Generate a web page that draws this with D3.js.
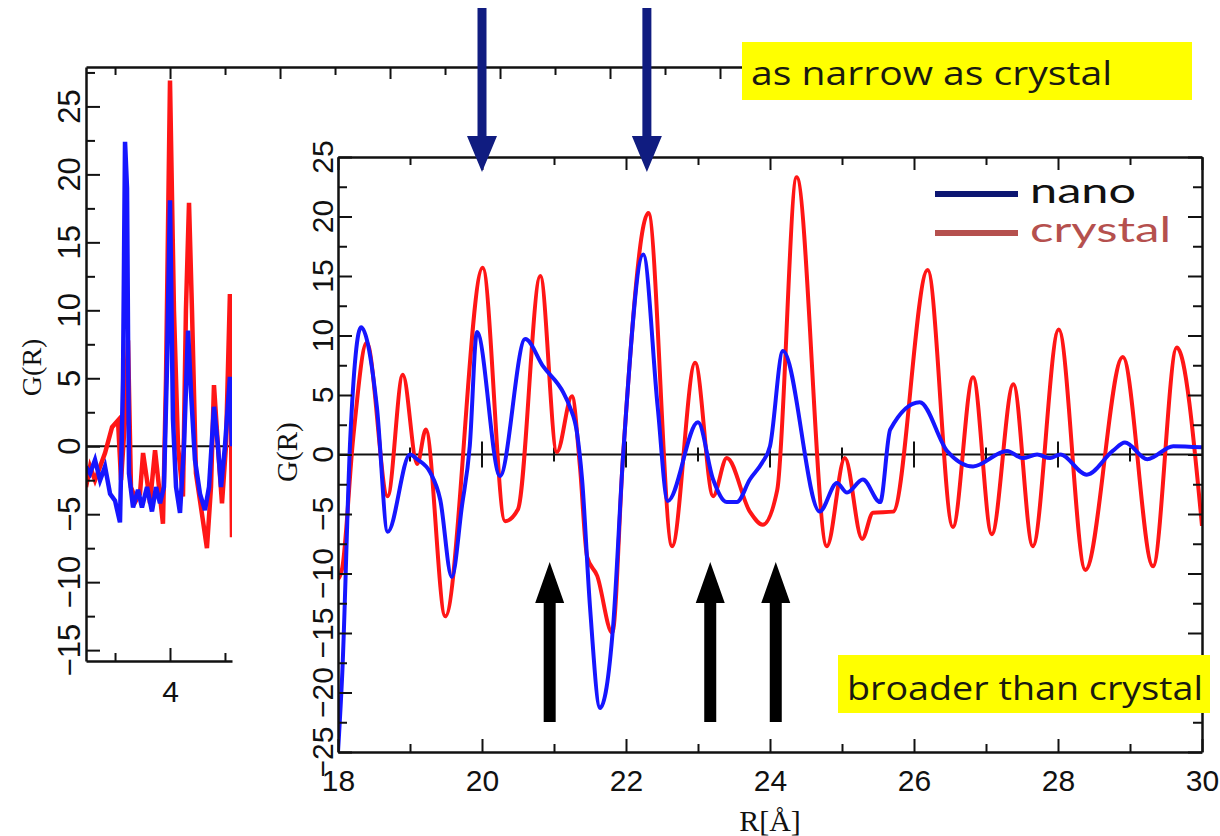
<!DOCTYPE html>
<html>
<head>
<meta charset="utf-8">
<style>
  body { margin: 0; background: #fff; }
  .axis .domain { stroke: #111; stroke-width: 2.5; }
  .axis line { stroke: #111; stroke-width: 2; }
  .axis text { font-family: "Liberation Sans", sans-serif; fill: #111; }
  .ylab { font-family: "Liberation Sans", sans-serif; fill: #111; }
  .title { font-family: "Liberation Serif", serif; fill: #111; }
  .note { font-family: "Open Sans", sans-serif; fill: #1a1a10; }
  .legtext { font-family: Lato, "Open Sans", sans-serif; }
</style>
<title>G(R) nano vs crystal</title>
</head>
<body>
<script src="https://cdn.jsdelivr.net/npm/d3@7"></script>
<script>
// main panel, R in angstrom
var crystalR = [18.00, 18.06, 18.21, 18.40, 18.69, 18.90, 19.10, 19.22, 19.49, 20.01, 20.32, 20.50, 20.81, 21.04, 21.25, 21.36, 21.46, 21.60, 21.81, 21.96, 22.31, 22.64, 22.96, 23.21, 23.40, 23.72, 23.90, 24.10, 24.37, 24.79, 25.04, 25.28, 25.43, 25.71, 26.19, 26.54, 26.82, 27.08, 27.38, 27.65, 28.01, 28.38, 28.90, 29.32, 29.65, 30.00];
var crystalG = [-10.5, -9.5, 1.3, 9.4, -3.5, 6.7, -0.8, 2.1, -13.6, 15.7, -5.6, -4.6, 15.0, 0.2, 4.9, -1.0, -8.6, -10.2, -15.0, 0.0, 20.3, -7.7, 7.7, -3.5, -0.3, -4.8, -5.9, -3.0, 23.3, -7.7, -0.3, -7.1, -4.9, -4.8, 15.5, -6.1, 6.5, -6.7, 5.9, -7.7, 10.5, -9.7, 8.2, -9.4, 9.0, -6.0];

var nanoR = [18.00, 18.06, 18.17, 18.32, 18.54, 18.69, 19.00, 19.10, 19.28, 19.42, 19.58, 19.72, 19.83, 19.93, 20.25, 20.60, 20.85, 21.13, 21.22, 21.32, 21.39, 21.50, 21.64, 21.82, 21.96, 22.24, 22.44, 22.58, 23.00, 23.21, 23.40, 23.54, 23.72, 23.89, 24.00, 24.18, 24.69, 24.93, 25.07, 25.29, 25.53, 25.67, 26.08, 26.46, 26.82, 27.29, 27.51, 27.71, 27.89, 28.03, 28.40, 28.76, 28.93, 29.24, 29.60, 30.00];
var nanoG = [-25, -18.3, 1.3, 10.7, 4.0, -6.5, 0.0, -0.4, -1.5, -3.8, -10.3, -4.4, 0.7, 10.3, -1.8, 9.7, 7.4, 5.2, 4.0, 1.8, -2.1, -12.8, -21.3, -14.5, -0.1, 16.8, 4.0, -3.9, 2.7, -2.1, -4.0, -4.0, -2.1, -0.7, 0.7, 8.7, -4.8, -2.4, -3.2, -2.1, -4.0, 2.1, 4.4, 0.3, -1.0, 0.3, -0.3, 0.0, -0.3, 0.0, -1.7, 0.3, 1.0, -0.4, 0.7, 0.6];

// small panel on the left (short R)
var insetCrystalR = [3.236, 3.273, 3.318, 3.364, 3.409, 3.473, 3.527, 3.555, 3.591, 3.618, 3.645, 3.691, 3.727, 3.755, 3.791, 3.818, 3.864, 3.900, 3.936, 3.964, 4.000, 4.036, 4.073, 4.118, 4.145, 4.173, 4.200, 4.236, 4.273, 4.336, 4.373, 4.400, 4.436, 4.473, 4.509, 4.545, 4.564];
var insetCrystalG = [-3.0, -1.5, -2.5, -1.5, -0.5, 1.4, 1.9, -2.5, 2.0, 7.8, -3.0, -4.0, -3.5, -0.5, -2.5, -4.2, -0.3, -3.0, -5.7, 5.0, 26.9, 10.0, 0.0, -3.7, 10.0, 17.9, 10.0, -2.0, -4.0, -7.5, -3.0, 4.5, 0.0, -4.2, 0.0, 11.2, -6.7];
var insetNanoR = [3.236, 3.273, 3.318, 3.364, 3.409, 3.455, 3.500, 3.545, 3.573, 3.591, 3.609, 3.627, 3.664, 3.709, 3.745, 3.791, 3.836, 3.873, 3.909, 3.945, 3.973, 4.000, 4.027, 4.055, 4.091, 4.127, 4.164, 4.191, 4.227, 4.273, 4.318, 4.355, 4.400, 4.436, 4.464, 4.500, 4.545, 4.564];
var insetNanoG = [-1.5, -2, -1, -2.5, -1.5, -3.5, -4, -5.6, 5, 22.4, 19, -2, -4.5, -3.2, -4.5, -3, -4.8, -3, -4.2, -3, 6, 18.1, 2, -3, -4.9, 0, 8.5, 4, -1, -3.5, -4.7, -3, 2.9, 0, -3.0, 0, 5.1, 0];

// ticks
var mainXMajor = [18, 20, 22, 24, 26, 28, 30];
var mainXMinor = [19, 21, 23, 25, 27, 29];
var mainYMajor = [-25, -20, -15, -10, -5, 0, 5, 10, 15, 20, 25];
var mainYMinor = [-22.5, -17.5, -12.5, -7.5, -2.5, 2.5, 7.5, 12.5, 17.5, 22.5];
var insetYMajor = [-15, -10, -5, 0, 5, 10, 15, 20, 25];
var insetYMinor = [-12.5, -7.5, -2.5, 2.5, 7.5, 12.5, 17.5, 22.5, 27.5];
var insetXMajor = [4, 5, 6, 7, 8, 9];
var insetXMinor = [3.5, 4.5, 5.5, 6.5, 7.5, 8.5];

// annotations
var narrowArrowsR = [20.0, 22.29];
var broadArrowsR = [20.94, 23.17, 24.08];
var legendNames = ["nano", "crystal"];

var red = "#ff1616", blue = "#1616ff";

var svg = d3.select("body").append("svg")
  .attr("width", 1220)
  .attr("height", 836);

var defs = svg.append("defs");

// ---------- left panel ----------
var ix = d3.scaleLinear().domain([3.236, 4.564]).range([86, 232]);
var ixTop = d3.scaleLinear().domain([3.236, 9.2]).range([86, 742]);
var iy = d3.scaleLinear().domain([-15.8, 27.9]).range([661, 67]);

defs.append("clipPath").attr("id", "clipInset")
  .append("rect").attr("x", 86).attr("y", 67).attr("width", 146).attr("height", 594);

var inset = svg.append("g");

inset.append("line")
  .attr("x1", ix(3.236)).attr("x2", ix(4.564))
  .attr("y1", iy(0)).attr("y2", iy(0))
  .attr("stroke", "#111").attr("stroke-width", 2);

var insetLine = d3.line()
  .x(function(d){ return ix(d[0]); })
  .y(function(d){ return iy(d[1]); });

inset.append("path")
  .attr("clip-path", "url(#clipInset)")
  .attr("d", insetLine(d3.zip(insetCrystalR, insetCrystalG)))
  .attr("fill", "none").attr("stroke", red).attr("stroke-width", 4.5);
inset.append("path")
  .attr("clip-path", "url(#clipInset)")
  .attr("d", insetLine(d3.zip(insetNanoR, insetNanoG)))
  .attr("fill", "none").attr("stroke", blue).attr("stroke-width", 4.5);

inset.append("g").attr("class", "axis")
  .attr("transform", "translate(86,0)")
  .call(d3.axisLeft(iy).tickValues(insetYMajor).tickSize(-14).tickSizeOuter(0).tickFormat(""));
inset.append("g").attr("class", "axis")
  .attr("transform", "translate(86,0)")
  .call(d3.axisLeft(iy).tickValues(insetYMinor).tickSize(-9).tickSizeOuter(0).tickFormat(""))
  .select(".domain").remove();

inset.append("g").attr("class", "axis")
  .attr("transform", "translate(0,661)")
  .call(d3.axisBottom(ix).tickValues([4]).tickSize(-13).tickSizeOuter(0).tickPadding(20).tickFormat(d3.format("d")))
  .selectAll("text").attr("font-size", 30);
inset.append("g").attr("class", "axis")
  .attr("transform", "translate(0,661)")
  .call(d3.axisBottom(ix).tickValues([3.5, 4.5]).tickSize(-8).tickSizeOuter(0).tickFormat(""))
  .select(".domain").remove();

// the top frame line of the left plot runs on under the main plot
inset.append("g").attr("class", "axis")
  .attr("transform", "translate(0,67)")
  .call(d3.axisBottom(ixTop).tickValues(insetXMajor).tickSize(12).tickSizeOuter(0).tickFormat(""));
inset.append("g").attr("class", "axis")
  .attr("transform", "translate(0,67)")
  .call(d3.axisBottom(ixTop).tickValues(insetXMinor).tickSize(8).tickSizeOuter(0).tickFormat(""))
  .select(".domain").remove();

inset.selectAll(".ylabInset").data(insetYMajor).enter().append("text")
  .attr("class", "ylab")
  .attr("font-size", 31)
  .attr("text-anchor", "middle")
  .attr("transform", function(d){ return "translate(80," + iy(d) + ") rotate(-90)"; })
  .text(d3.format("d"));

inset.append("text").attr("class", "title")
  .attr("font-size", 28)
  .attr("text-anchor", "middle")
  .attr("transform", "translate(41," + iy(5.8) + ") rotate(-90)")
  .text("G(R)");

// ---------- main panel ----------
var x = d3.scaleLinear().domain([18, 30]).range([338, 1202]);
var y = d3.scaleLinear().domain([-25, 25]).range([752, 157]);

defs.append("clipPath").attr("id", "clipMain")
  .append("rect").attr("x", 338).attr("y", 157).attr("width", 864).attr("height", 595);

var main = svg.append("g");

main.append("line")
  .attr("x1", x(18)).attr("x2", x(30))
  .attr("y1", y(0)).attr("y2", y(0))
  .attr("stroke", "#111").attr("stroke-width", 2);
main.selectAll(".zt").data(mainXMinor.concat([20, 22, 24, 26, 28])).enter().append("line")
  .attr("x1", function(d){ return x(d); }).attr("x2", function(d){ return x(d); })
  .attr("y1", function(d){ return y(0) - (d % 2 ? 7 : 13); })
  .attr("y2", function(d){ return y(0) + (d % 2 ? 7 : 13); })
  .attr("stroke", "#111").attr("stroke-width", 2);

var curve = d3.line()
  .curve(d3.curveMonotoneX)
  .x(function(d){ return x(d[0]); })
  .y(function(d){ return y(d[1]); });

main.append("path")
  .attr("clip-path", "url(#clipMain)")
  .attr("d", curve(d3.zip(crystalR, crystalG)))
  .attr("fill", "none").attr("stroke", red).attr("stroke-width", 4);
main.append("path")
  .attr("clip-path", "url(#clipMain)")
  .attr("d", curve(d3.zip(nanoR, nanoG)))
  .attr("fill", "none").attr("stroke", blue).attr("stroke-width", 4);

// frame + inward ticks
var bottom = main.append("g").attr("class", "axis")
  .attr("transform", "translate(0,752)")
  .call(d3.axisBottom(x).tickValues(mainXMajor).tickSize(-13).tickSizeOuter(0).tickPadding(18).tickFormat(d3.format("d")));
bottom.selectAll("text").attr("font-size", 30);
main.append("g").attr("class", "axis")
  .attr("transform", "translate(0,752)")
  .call(d3.axisBottom(x).tickValues(mainXMinor).tickSize(-8).tickSizeOuter(0).tickFormat(""))
  .select(".domain").remove();

main.append("g").attr("class", "axis")
  .attr("transform", "translate(0,157)")
  .call(d3.axisTop(x).tickValues(mainXMajor).tickSize(-13).tickSizeOuter(0).tickFormat(""));
main.append("g").attr("class", "axis")
  .attr("transform", "translate(0,157)")
  .call(d3.axisTop(x).tickValues(mainXMinor).tickSize(-8).tickSizeOuter(0).tickFormat(""))
  .select(".domain").remove();

main.append("g").attr("class", "axis")
  .attr("transform", "translate(338,0)")
  .call(d3.axisLeft(y).tickValues(mainYMajor).tickSize(-14).tickSizeOuter(0).tickFormat(""));
main.append("g").attr("class", "axis")
  .attr("transform", "translate(338,0)")
  .call(d3.axisLeft(y).tickValues(mainYMinor).tickSize(-9).tickSizeOuter(0).tickFormat(""))
  .select(".domain").remove();

main.append("g").attr("class", "axis")
  .attr("transform", "translate(1202,0)")
  .call(d3.axisRight(y).tickValues(mainYMajor).tickSize(-14).tickSizeOuter(0).tickFormat(""));
main.append("g").attr("class", "axis")
  .attr("transform", "translate(1202,0)")
  .call(d3.axisRight(y).tickValues(mainYMinor).tickSize(-9).tickSizeOuter(0).tickFormat(""))
  .select(".domain").remove();

main.selectAll(".ylabMain").data(mainYMajor).enter().append("text")
  .attr("class", "ylab")
  .attr("font-size", 30)
  .attr("text-anchor", "middle")
  .attr("transform", function(d){ return "translate(333," + y(d) + ") rotate(-90)"; })
  .text(d3.format("d"));

main.append("text").attr("class", "title")
  .attr("font-size", 29)
  .attr("text-anchor", "middle")
  .attr("transform", "translate(297," + y(0.2) + ") rotate(-90)")
  .text("G(R)");

main.append("text").attr("class", "title")
  .attr("font-size", 30)
  .attr("text-anchor", "middle")
  .attr("x", x(24)).attr("y", 831)
  .text("R[\u00c5]");

// legend
var legendColor = ["#0c1672", "#b5504e"];
var legendText = ["#111", "#b5504e"];
var legendWidth = [106, 141];
var leg = main.selectAll(".leg").data(legendNames).enter().append("g")
  .attr("transform", function(d, i){ return "translate(0," + (194 + i * 39) + ")"; });
leg.append("line")
  .attr("x1", 935).attr("x2", 1018)
  .attr("stroke", function(d, i){ return legendColor[i]; })
  .attr("stroke-width", 6);
leg.append("text")
  .attr("class", "legtext")
  .attr("x", 1030).attr("y", 9)
  .attr("font-size", 34)
  .attr("textLength", function(d, i){ return legendWidth[i]; })
  .attr("lengthAdjust", "spacingAndGlyphs")
  .attr("fill", function(d, i){ return legendText[i]; })
  .text(function(d){ return d; });

// arrows
function arrowPath(cx, tipY, tailY, headLen, headW, shaftW) {
  var dir = tailY > tipY ? 1 : -1;
  var baseY = tipY + dir * headLen;
  var p = d3.path();
  p.moveTo(cx, tipY);
  p.lineTo(cx + headW / 2, baseY);
  p.lineTo(cx + shaftW / 2, baseY);
  p.lineTo(cx + shaftW / 2, tailY);
  p.lineTo(cx - shaftW / 2, tailY);
  p.lineTo(cx - shaftW / 2, baseY);
  p.lineTo(cx - headW / 2, baseY);
  p.closePath();
  return p.toString();
}

svg.selectAll(".narrowArrow").data(narrowArrowsR).enter().append("path")
  .attr("d", function(d){ return arrowPath(x(d), 172, 8, 36, 30, 9); })
  .attr("fill", "#101c80");

svg.selectAll(".broadArrow").data(broadArrowsR).enter().append("path")
  .attr("d", function(d){ return arrowPath(x(d), 562, 722, 41, 29, 12); })
  .attr("fill", "#000");

// yellow notes
svg.append("rect").attr("x", 742).attr("y", 42).attr("width", 450).attr("height", 58).attr("fill", "#ffff00");
svg.append("text").attr("class", "note")
  .attr("x", 751).attr("y", 85)
  .attr("font-size", 32)
  .attr("textLength", 361).attr("lengthAdjust", "spacingAndGlyphs")
  .text("as narrow as crystal");

svg.append("rect").attr("x", 838).attr("y", 655).attr("width", 372).attr("height", 58).attr("fill", "#ffff00");
svg.append("text").attr("class", "note")
  .attr("x", 847).attr("y", 700)
  .attr("font-size", 32)
  .attr("textLength", 356).attr("lengthAdjust", "spacingAndGlyphs")
  .text("broader than crystal");
</script>
</body>
</html>
